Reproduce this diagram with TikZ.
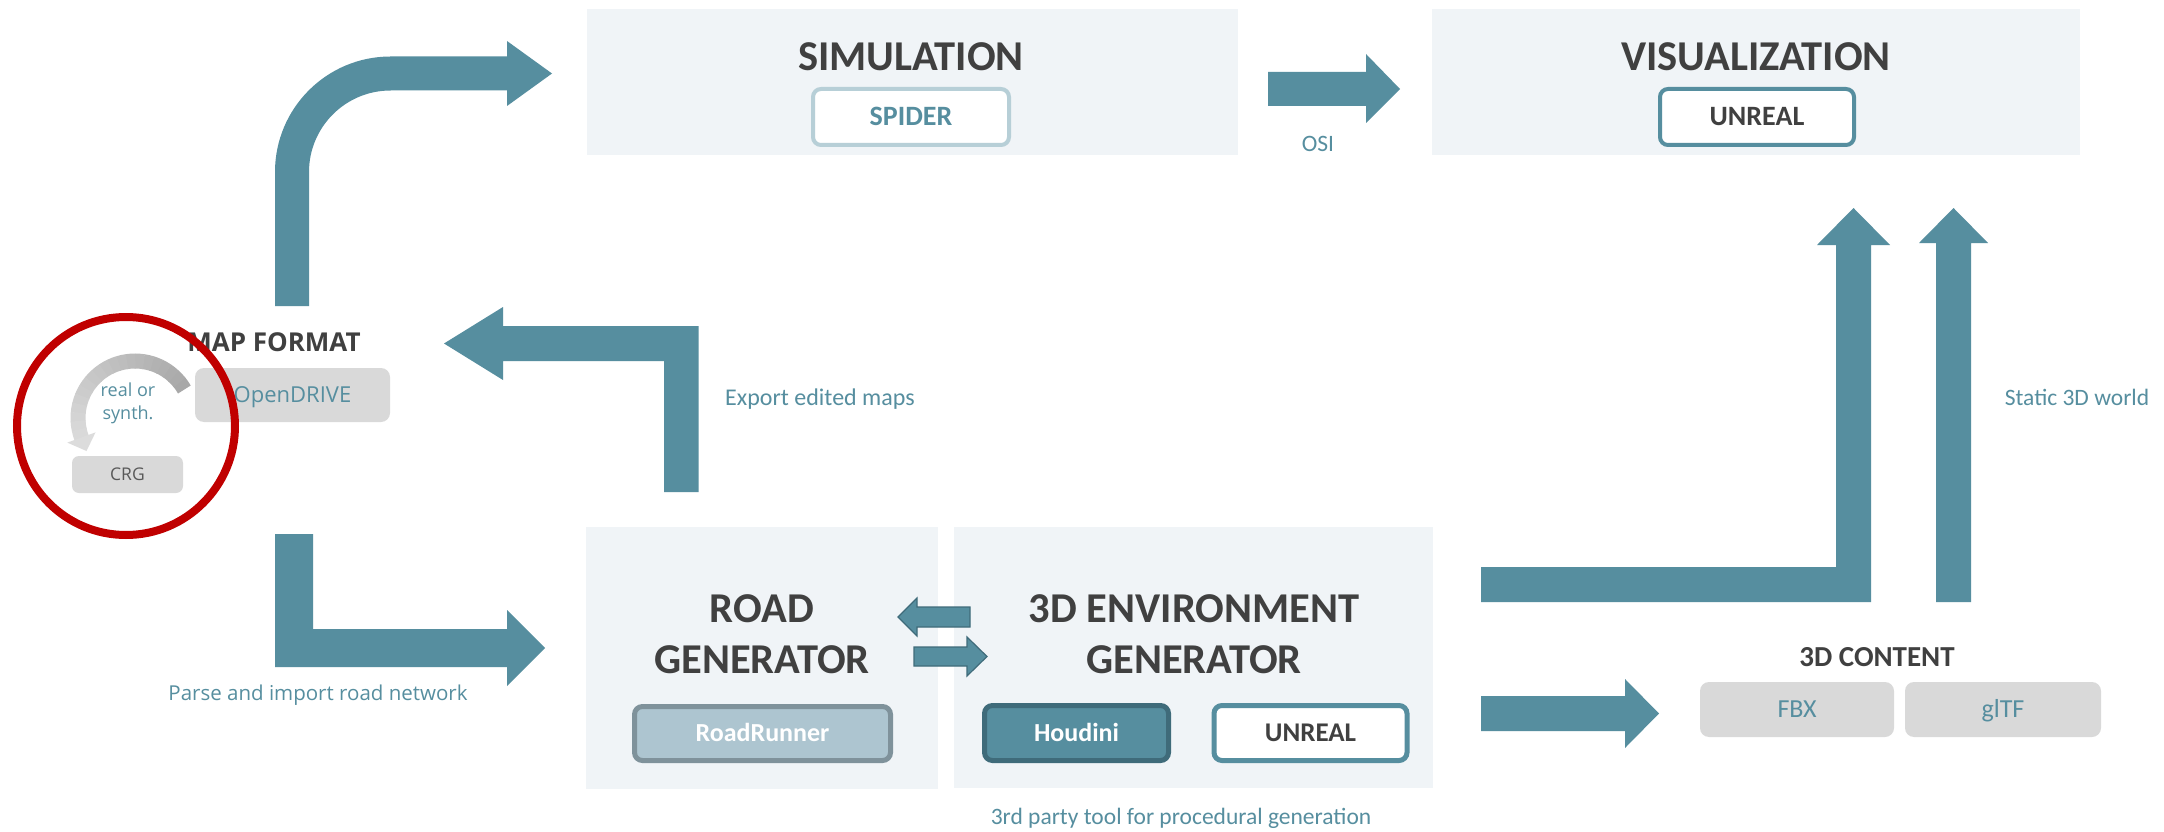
\documentclass[tikz,border=0pt]{standalone}
\usepackage{fontspec}
\setmainfont{Carlito}
\newfontfamily\osans{Open Sans}
\usetikzlibrary{calc}
\definecolor{tealA}{HTML}{568E9F}
\definecolor{tealD}{HTML}{3F6B7A}
\definecolor{panelC}{HTML}{F0F4F7}
\definecolor{darkT}{HTML}{404040}
\definecolor{grayBox}{HTML}{D9D9D9}
\definecolor{spiderB}{HTML}{B7CFD7}
\definecolor{rrFill}{HTML}{ADC5D0}
\definecolor{rrBorder}{HTML}{7F929B}
\definecolor{ringRed}{HTML}{C00000}
\definecolor{arcDark}{HTML}{A8A8A8}
\definecolor{arcLight}{HTML}{DCDCDC}
\definecolor{crgText}{HTML}{595959}
\tikzset{
  panel/.style={fill=panelC, inner sep=0pt},
  title/.style={anchor=base, text=darkT, font=\fontsize{42.5}{51}\selectfont\bfseries, inner sep=0pt},
  subtitle/.style={anchor=base, text=darkT, font=\fontsize{29}{35}\selectfont\bfseries, inner sep=0pt},
  lbltext/.style={anchor=base, text=tealA, font=\fontsize{23.5}{28}\selectfont, inner sep=0pt},
  blockarrow/.style={fill=tealA},
  smallarrow/.style={fill=tealA, draw=tealD, line width=1.2},
  toolbox/.style={rounded corners=8, inner sep=0pt, text depth=0pt},
  boldtool/.style={toolbox, font=\fontsize{28}{34}\selectfont\bfseries, text height=17.7pt},
  graybox/.style={toolbox, fill=grayBox, rounded corners=9},
}
\begin{document}
\begin{tikzpicture}[x=1pt,y=-1pt]
\useasboundingbox (0,0) rectangle (2164,832);
\fill[white] (0,0) rectangle (2164,832);

% panels
\node[panel, minimum width=651, minimum height=146, anchor=north west] (sim) at (587,9) {};
\node[panel, minimum width=648, minimum height=146, anchor=north west] (vis) at (1432,9) {};
\node[panel, minimum width=352, minimum height=262, anchor=north west] (road) at (586,527) {};
\node[panel, minimum width=479, minimum height=261, anchor=north west] (env) at (954,527) {};

% titles
\node[title] (simT) at (911,71) {SIMULATION};
\node[title] (visT) at (1756,71) {VISUALIZATION};
\node[title] (roadT1) at (762,622) {ROAD};
\node[title] (roadT2) at (762,673) {GENERATOR};
\node[title] (envT1) at (1194,622) {3D ENVIRONMENT};
\node[title] (envT2) at (1194,673) {GENERATOR};
\node[subtitle] (cont) at (1877,666) {3D CONTENT};
\node[anchor=base, text=darkT, font=\osans\fontsize{26}{31}\selectfont\bfseries, inner sep=0pt] (mapT) at (274,351) {MAP FORMAT};

% tool boxes
\node[boldtool, draw=spiderB, line width=4, fill=white, minimum width=196, minimum height=56, text=tealA] (spider) at (911,117) {SPIDER};
\node[boldtool, draw=tealA, line width=4, fill=white, minimum width=194, minimum height=56, text=darkT] (unrealTop) at (1757,117) {UNREAL};
\node[boldtool, draw=rrBorder, line width=5, fill=rrFill, minimum width=256, minimum height=54, text=white, font=\fontsize{26}{31}\selectfont\bfseries, text height=16.4pt] (rr) at (762.5,733.5) {RoadRunner};
\node[boldtool, draw=tealD, line width=5, fill=tealA, minimum width=184, minimum height=55, text=white, font=\fontsize{26}{31}\selectfont\bfseries, text height=16.4pt] (houdini) at (1076.5,733) {Houdini};
\node[boldtool, draw=tealA, line width=5, fill=white, minimum width=193, minimum height=55, text=darkT, font=\fontsize{27}{32}\selectfont\bfseries, text height=17pt] (unrealBot) at (1310.5,733) {UNREAL};

\node[graybox, minimum width=194, minimum height=55, text=tealA, font=\fontsize{26}{31}\selectfont, text height=16.4pt] (fbx) at (1797,709.5) {FBX};
\node[graybox, minimum width=196, minimum height=55, text=tealA, font=\fontsize{26}{31}\selectfont, text height=16.4pt] (gltf) at (2003,709.5) {glTF};
\node[graybox, minimum width=195, minimum height=54, text=tealA, font=\osans\fontsize{22}{26}\selectfont, text height=15.7pt] (odr) at (292.5,395) {OpenDRIVE};
\node[graybox, rounded corners=7, minimum width=111, minimum height=37, text=crgText, font=\osans\fontsize{17.5}{21}\selectfont, text height=12.5pt] (crg) at (127.5,474.5) {CRG};

% labels
\node[lbltext] (osi) at (1318,152) {OSI};
\node[lbltext, font=\fontsize{24}{29}\selectfont] (exportT) at (820,405) {Export edited maps};
\node[lbltext] (staticT) at (2077,405) {Static 3D world};
\node[lbltext] (partyT) at (1181,824) {3rd party tool for procedural generation};
\node[lbltext, font=\osans\fontsize{20.5}{25}\selectfont] (parseT) at (318,700) {Parse and import road network};
\node[lbltext, font=\osans\fontsize{18}{22}\selectfont] (real1) at (128,396) {real or};
\node[lbltext, font=\osans\fontsize{18}{22}\selectfont] (real2) at (128,419) {synth.};

% block arrows
\coordinate (mapUp) at (292,306);
\coordinate (simIn) at (508,73.5);
\draw[tealA, line width=34] (mapUp) -- (292,172) arc[start angle=180, end angle=270, radius=98.5] -- (simIn);
\fill[tealA] (507,41) -- (552,73.5) -- (507,106) -- cycle;

\fill[blockarrow] (698.5,492) -- (698.5,326) -- (503,326) -- (503,307) -- (444,343.5) -- (503,380) -- (503,361) -- (664,361) -- (664,492) -- cycle;
\fill[blockarrow] (275,534) -- (313,534) -- (313,629) -- (507,629) -- (507,610) -- (545,648) -- (507,686) -- (507,667) -- (275,667) -- cycle;
\fill[blockarrow] (1268,72) -- (1366,72) -- (1366,54) -- (1400,89) -- (1366,123) -- (1366,106) -- (1268,106) -- cycle;
\fill[blockarrow] (1481,696) -- (1625,696) -- (1625,679) -- (1659,713.5) -- (1625,748) -- (1625,731) -- (1481,731) -- cycle;
\fill[blockarrow] (1481,567) -- (1836,567) -- (1836,245) -- (1817,245) -- (1853.5,208) -- (1890,245) -- (1871,245) -- (1871,602) -- (1481,602) -- cycle;
\fill[blockarrow] (1936,602) -- (1936,243) -- (1919,243) -- (1953.5,208) -- (1988,243) -- (1971,243) -- (1971,602) -- cycle;

% small arrows between generators
\filldraw[smallarrow] (970,607) -- (917,607) -- (917,598) -- (898,617) -- (917,636) -- (917,627) -- (970,627) -- cycle;
\filldraw[smallarrow] (914,647) -- (967,647) -- (967,637) -- (987,656.5) -- (967,676) -- (967,666) -- (914,666) -- cycle;

% curved grey arrow
\coordinate (cc) at (135,418);
\foreach \i in {0,...,19}{
  \pgfmathsetmacro\a{-30-\i*8.5}
  \pgfmathsetmacro\p{100-\i*5}
  \draw[line width=15, color=arcDark!\p!arcLight] ($(cc)+(\a:57)$) arc[start angle=\a, end angle=\a-9.2, radius=57];
}
\fill[arcLight] (67.3,442.6) -- (95.5,432.4) -- (86.5,451) -- cycle;

% red ring
\draw[ringRed, line width=8] (126,426) circle[radius=109];
\end{tikzpicture}
\end{document}
